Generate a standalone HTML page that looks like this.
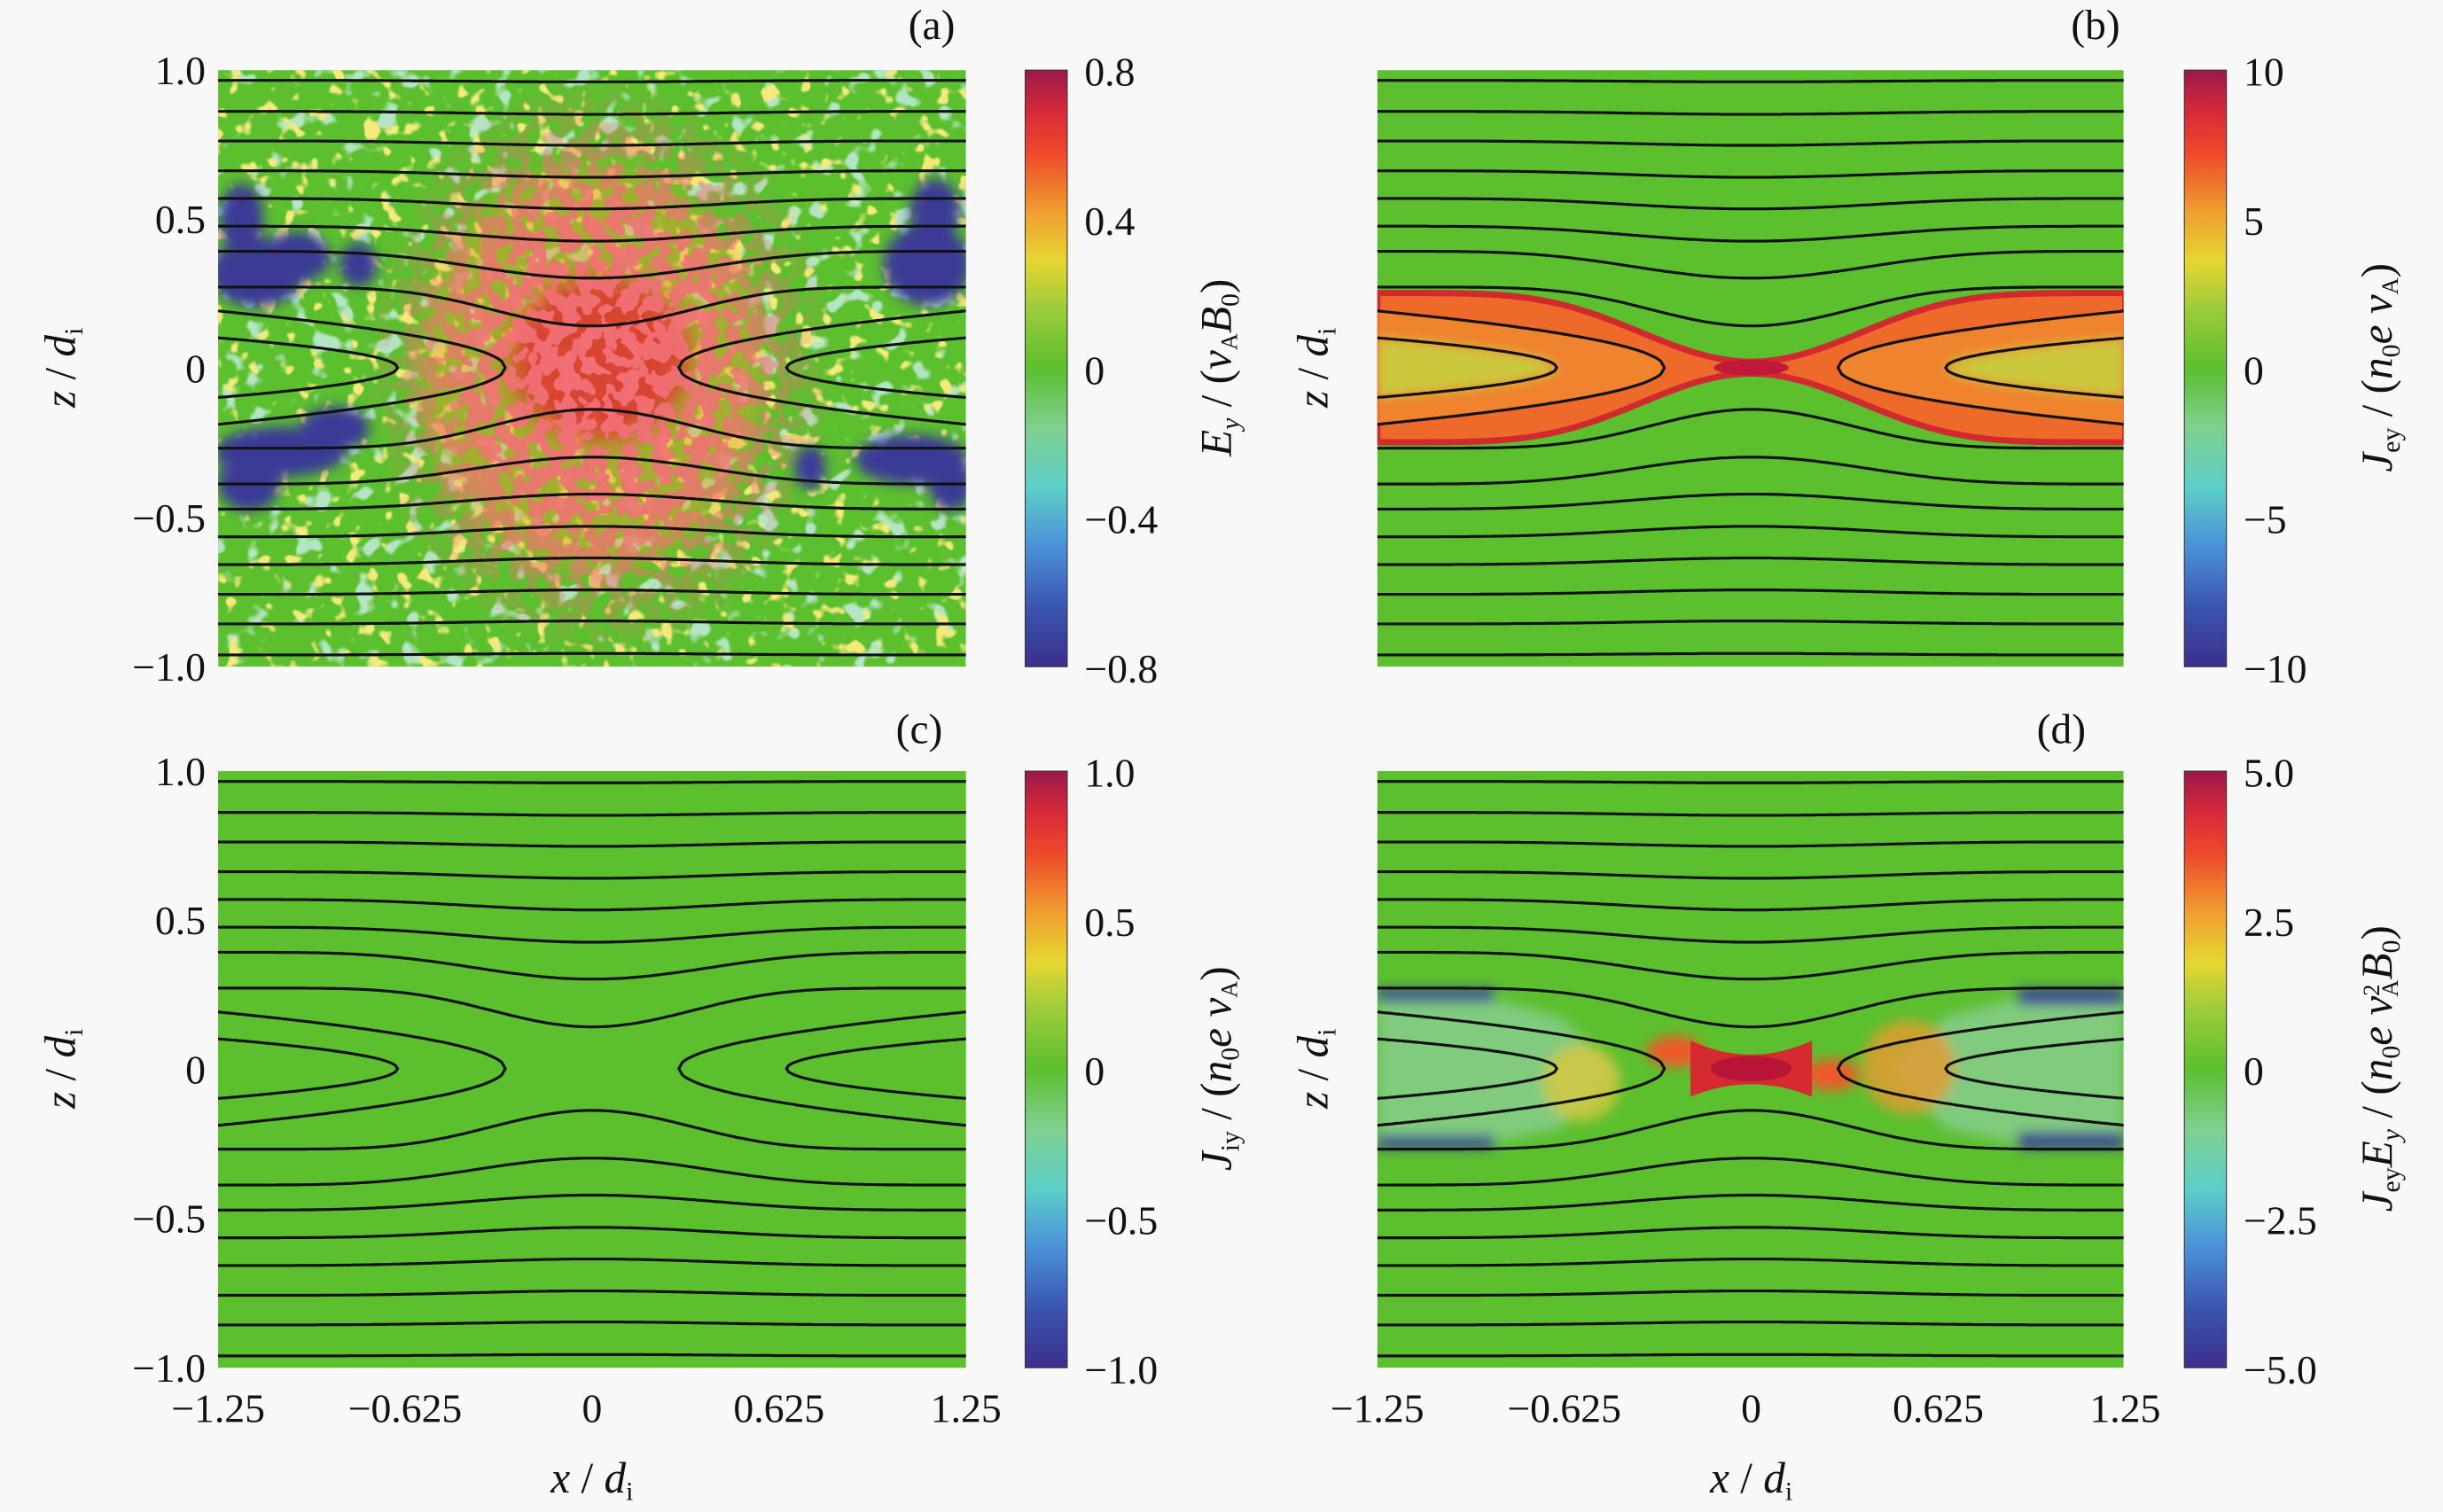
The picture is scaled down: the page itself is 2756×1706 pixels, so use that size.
<!DOCTYPE html>
<html><head><meta charset="utf-8">
<style>
html,body{margin:0;padding:0;background:#f8f8f8;}
svg{display:block;}
</style></head>
<body>
<svg id="s" width="2756" height="1706" viewBox="0 0 1568 970.6" xmlns="http://www.w3.org/2000/svg">
<defs>
<linearGradient id="cb" x1="0" y1="1" x2="0" y2="0">
<stop offset="0" stop-color="#3b2f8c"/>
<stop offset="0.1" stop-color="#3a55b0"/>
<stop offset="0.2" stop-color="#4a90d8"/>
<stop offset="0.3" stop-color="#5ccfc8"/>
<stop offset="0.4" stop-color="#80d090"/>
<stop offset="0.5" stop-color="#5cbf2e"/>
<stop offset="0.6" stop-color="#9ccc3a"/>
<stop offset="0.68" stop-color="#e6d632"/>
<stop offset="0.76" stop-color="#f0a030"/>
<stop offset="0.86" stop-color="#ee4a2a"/>
<stop offset="0.93" stop-color="#d62a3a"/>
<stop offset="1" stop-color="#9c1848"/>
</linearGradient>
<filter id="blur4"><feGaussianBlur stdDeviation="4"/></filter>
<filter id="blur8"><feGaussianBlur stdDeviation="8"/></filter>
<filter id="spY" x="0" y="0" width="1" height="1">
<feTurbulence type="fractalNoise" baseFrequency="0.09" numOctaves="2" seed="3"/>
<feColorMatrix type="matrix" values="0 0 0 0 0.9  0 0 0 0 0.82  0 0 0 0 0.2  1 0 0 0 0"/>
<feComponentTransfer><feFuncA type="linear" slope="9" intercept="-5.5"/></feComponentTransfer>
</filter>
<filter id="spC" x="0" y="0" width="1" height="1">
<feTurbulence type="fractalNoise" baseFrequency="0.07" numOctaves="2" seed="11"/>
<feColorMatrix type="matrix" values="0 0 0 0 0.45  0 0 0 0 0.78  0 0 0 0 0.55  0 1 0 0 0"/>
<feComponentTransfer><feFuncA type="linear" slope="9" intercept="-5.4"/></feComponentTransfer>
</filter>
<filter id="spR" x="0" y="0" width="1" height="1">
<feTurbulence type="fractalNoise" baseFrequency="0.1" numOctaves="2" seed="5"/>
<feColorMatrix type="matrix" values="0 0 0 0 0.88  0 0 0 0 0.16  0 0 0 0 0.18  0 0 1 0 0"/>
<feComponentTransfer><feFuncA type="linear" slope="30" intercept="-13.5"/></feComponentTransfer>
</filter>
<radialGradient id="rmask"><stop offset="0" stop-color="#fff"/><stop offset="0.55" stop-color="#fff" stop-opacity="0.85"/><stop offset="1" stop-color="#fff" stop-opacity="0"/></radialGradient>
<mask id="mr"><ellipse cx="385" cy="236" rx="150" ry="185" fill="url(#rmask)"/></mask>
<clipPath id="ca"><rect x="140" y="45" width="480" height="383"/></clipPath>
<clipPath id="cd"><rect x="884" y="495" width="479" height="383"/></clipPath>
<clipPath id="cb2"><rect x="884" y="45" width="479" height="383"/></clipPath>
</defs>
<g id="root"></g>
</svg>
<script>
const NS="http://www.w3.org/2000/svg";
const root=document.getElementById('root');
const FF='"Liberation Serif","Times New Roman","DejaVu Serif",serif';
function el(t,a,p){const e=document.createElementNS(NS,t);for(const k in a)e.setAttribute(k,a[k]);(p||root).appendChild(e);return e;}
function txt(x,y,s,a,p){const e=el('text',Object.assign({x:x,y:y,fill:'#111'},a||{}),p);e.style.fontFamily=FF;e.innerHTML=s;return e;}
const N=300;
function openZ(ze,d,p,x){const w=Math.pow((1+Math.cos(Math.PI*x/1.25))/2,p);return ze-d*w;}
const opens=[[0.963,0.005,2],[0.859,0.01,2],[0.76,0.015,2],[0.66,0.022,2],[0.567,0.035,2],[0.474,0.05,2],[0.39,0.09,2.2],[0.27,0.13,3]];
const loops=[[0.19,0.29],[0.10,0.65]];
function X(x,ox){return ox+380+x*192;}
function Z(z,oy){return oy+236-z*191.5;}
function f(p){return p.map(q=>q[0].toFixed(1)+','+q[1].toFixed(1)).join('L');}
function openPts(ze,d,p,sgn,ox,oy){const a=[];for(let i=0;i<=N;i++){const x=-1.25+2.5*i/N;a.push([X(x,ox),Z(sgn*openZ(ze,d,p,x),oy)]);}return a;}
function loopPts(h,t,side,ox,oy){const a=[];const M=80;for(let i=M;i>=0;i--){const u=i/M;const xa=t+(1.25-t)*u;a.push([X(side*xa,ox),Z(h*Math.pow(u,0.5),oy)]);}for(let i=1;i<=M;i++){const u=i/M;const xa=t+(1.25-t)*u;a.push([X(side*xa,ox),Z(-h*Math.pow(u,0.5),oy)]);}return a;}
function linesPath(ox,oy){let d='';for(const [ze,dd,p] of opens){d+='M'+f(openPts(ze,dd,p,1,ox,oy))+'M'+f(openPts(ze,dd,p,-1,ox,oy));}for(const [h,t] of loops){d+='M'+f(loopPts(h,t,-1,ox,oy))+'M'+f(loopPts(h,t,1,ox,oy));}return d;}
function bandPath(ze,dd,p,ox,oy){const up=openPts(ze,dd,p,1,ox,oy),lo=openPts(ze,dd,p,-1,ox,oy).reverse();return 'M'+f(up.concat(lo))+'Z';}
function loopFill(h,t,ox,oy){return 'M'+f(loopPts(h,t,-1,ox,oy))+'ZM'+f(loopPts(h,t,1,ox,oy))+'Z';}
const G='#5cbf2e';
let ga=el('g',{'clip-path':'url(#ca)'});
el('rect',{x:140,y:45,width:480,height:383,fill:G},ga);
el('rect',{x:140,y:45,width:480,height:383,filter:'url(#spC)'},ga);
el('rect',{x:140,y:45,width:480,height:383,filter:'url(#spY)'},ga);
let gr=el('g',{filter:'url(#blur8)'},ga);
el('ellipse',{cx:380,cy:236,rx:110,ry:130,fill:'#e8a030','opacity':0.5},gr);
el('ellipse',{cx:385,cy:230,rx:60,ry:55,fill:'#e03030',opacity:0.85},gr);
let gm=el('g',{mask:'url(#mr)'},ga);
el('rect',{x:230,y:45,width:310,height:383,filter:'url(#spR)'},gm);
let gb=el('g',{filter:'url(#blur4)'},ga);
for(const [cx,cy,rx,ry] of [[165,175,30,22],[155,140,14,22],[190,165,22,16],[180,290,42,16],[215,275,22,14],[160,310,20,18],[595,170,28,26],[600,135,16,20],[585,295,36,16],[610,310,14,18],[230,170,12,14],[520,300,10,14]])el('ellipse',{cx:cx,cy:cy,rx:rx,ry:ry,fill:'#3b3a96'},gb);
el('path',{d:linesPath(0,0),fill:'none',stroke:'#111',"stroke-width":1.8},ga);
let gbb=el('g',{'clip-path':'url(#cb2)'});
el('rect',{x:884,y:45,width:479,height:383,fill:G},gbb);
el('path',{d:bandPath(0.25,0.23,2.5,744,0),fill:'#ee6a2a',stroke:'#d02a30','stroke-width':4},gbb);
el('path',{d:loopFill(0.19,0.29,744,0),fill:'#f08a30',opacity:0.8},gbb);
el('path',{d:loopFill(0.10,0.65,744,0),fill:'#c8d040',opacity:0.9,filter:'url(#blur4)'},gbb);
el('ellipse',{cx:1124,cy:236,rx:24,ry:5,fill:'#c01838'},gbb);
el('path',{d:linesPath(744,0),fill:'none',stroke:'#111',"stroke-width":1.8},gbb);
el('rect',{x:140,y:495,width:480,height:383,fill:G});
el('path',{d:linesPath(0,450),fill:'none',stroke:'#111',"stroke-width":1.8});
let gd=el('g',{'clip-path':'url(#cd)'});
el('rect',{x:884,y:495,width:479,height:383,fill:G},gd);
let gdb=el('g',{filter:'url(#blur4)'},gd);
el('path',{d:'M884,640 L960,642 L1000,652 L1040,688 L1000,725 L960,733 L884,733 Z',fill:'#8fd0a0',opacity:0.7},gdb);
el('path',{d:'M1363,640 L1290,642 L1250,652 L1210,688 L1250,725 L1290,733 L1363,733 Z',fill:'#8fd0a0',opacity:0.7},gdb);
el('rect',{x:884,y:635,width:75,height:8,fill:'#3b3a96'},gdb);
el('rect',{x:884,y:729,width:75,height:8,fill:'#3b3a96'},gdb);
el('rect',{x:1295,y:635,width:68,height:10,fill:'#3b3a96'},gdb);
el('rect',{x:1295,y:727,width:68,height:10,fill:'#3b3a96'},gdb);
el('ellipse',{cx:1015,cy:695,rx:25,ry:25,fill:'#d8c840',opacity:0.8},gdb);
el('ellipse',{cx:1225,cy:685,rx:30,ry:30,fill:'#e89a30',opacity:0.8},gdb);
el('ellipse',{cx:1075,cy:675,rx:18,ry:10,fill:'#ee5a2a'},gdb);
el('ellipse',{cx:1175,cy:690,rx:18,ry:10,fill:'#ee5a2a'},gdb);
el('path',{d:'M1085,668 Q1124,686 1163,668 L1163,704 Q1124,688 1085,704 Z',fill:'#d42a30'},gd);
el('ellipse',{cx:1124,cy:686,rx:26,ry:8,fill:'#b81438'},gd);
el('path',{d:linesPath(744,450),fill:'none',stroke:'#111',"stroke-width":1.8},gd);
const cbx=[658,1402],cby=[45,495];
const cbl=[[['0.8','0.4','0','−0.4','−0.8'],['10','5','0','−5','−10']],[['1.0','0.5','0','−0.5','−1.0'],['5.0','2.5','0','−2.5','−5.0']]];
for(let r=0;r<2;r++)for(let c=0;c<2;c++){const x=cbx[c],y=cby[r];el('rect',{x:x,y:y,width:27,height:383,fill:'url(#cb)',stroke:'#333','stroke-width':0.6});cbl[r][c].forEach((s,i)=>{txt(x+38,y+i*95.75+10,s,{'font-size':26});});}
for(let r=0;r<2;r++){const oy=r*450;['1.0','0.5','0','−0.5','−1.0'].forEach((s,i)=>txt(132,oy+45+i*95.75+9,s,{'font-size':26,'text-anchor':'end'}));}
for(const ox of [0,744]){['−1.25','−0.625','0','0.625','1.25'].forEach((s,i)=>txt(140+ox+i*120,913,s,{'font-size':26,'text-anchor':'middle'}));
txt(380+ox,958,'<tspan font-style="italic">x</tspan> / <tspan font-style="italic">d</tspan><tspan font-size="17" dy="5">i</tspan>',{'font-size':28,'text-anchor':'middle'});}
for(const [x,y] of [[48,236],[48,686],[852,236],[852,686]]){txt(0,0,'<tspan font-style="italic">z</tspan> / <tspan font-style="italic">d</tspan><tspan font-size="17" dy="5">i</tspan>',{'font-size':28,'text-anchor':'middle',transform:`translate(${x},${y}) rotate(-90)`});}
const cbt=[[790,236,'<tspan font-style="italic">E</tspan><tspan font-size="17" dy="5" font-style="italic">y</tspan><tspan dy="-5"> / (</tspan><tspan font-style="italic">v</tspan><tspan font-size="15" dy="4">A</tspan><tspan font-style="italic" dy="-4">B</tspan><tspan font-size="17" dy="5">0</tspan><tspan dy="-5">)</tspan>'],
[1535,236,'<tspan font-style="italic">J</tspan><tspan font-size="17" dy="5">ey</tspan><tspan dy="-5"> / (</tspan><tspan font-style="italic">n</tspan><tspan font-size="17" dy="5">0</tspan><tspan font-style="italic" dy="-5">e v</tspan><tspan font-size="15" dy="4">A</tspan><tspan dy="-4">)</tspan>'],
[790,686,'<tspan font-style="italic">J</tspan><tspan font-size="17" dy="5">iy</tspan><tspan dy="-5"> / (</tspan><tspan font-style="italic">n</tspan><tspan font-size="17" dy="5">0</tspan><tspan font-style="italic" dy="-5">e v</tspan><tspan font-size="15" dy="4">A</tspan><tspan dy="-4">)</tspan>'],
[1535,686,'<tspan font-style="italic">J</tspan><tspan font-size="17" dy="5">ey</tspan><tspan font-style="italic" dy="-5">E</tspan><tspan font-size="17" dy="5" font-style="italic">y</tspan><tspan dy="-5"> / (</tspan><tspan font-style="italic">n</tspan><tspan font-size="17" dy="5">0</tspan><tspan font-style="italic" dy="-5">e v</tspan><tspan font-size="15" dy="-8">2</tspan><tspan font-size="15" dx="-8" dy="12">A</tspan><tspan font-style="italic" dy="-4">B</tspan><tspan font-size="17" dy="5">0</tspan><tspan dy="-5">)</tspan>']];
for(const [x,y,s] of cbt)txt(0,0,s,{'font-size':28,'text-anchor':'middle',transform:`translate(${x},${y}) rotate(-90)`});
txt(598,25,'(a)',{'font-size':27,'text-anchor':'middle'});
txt(1345,25,'(b)',{'font-size':27,'text-anchor':'middle'});
txt(590,477,'(c)',{'font-size':27,'text-anchor':'middle'});
txt(1323,477,'(d)',{'font-size':27,'text-anchor':'middle'});
</script>
</body></html>
